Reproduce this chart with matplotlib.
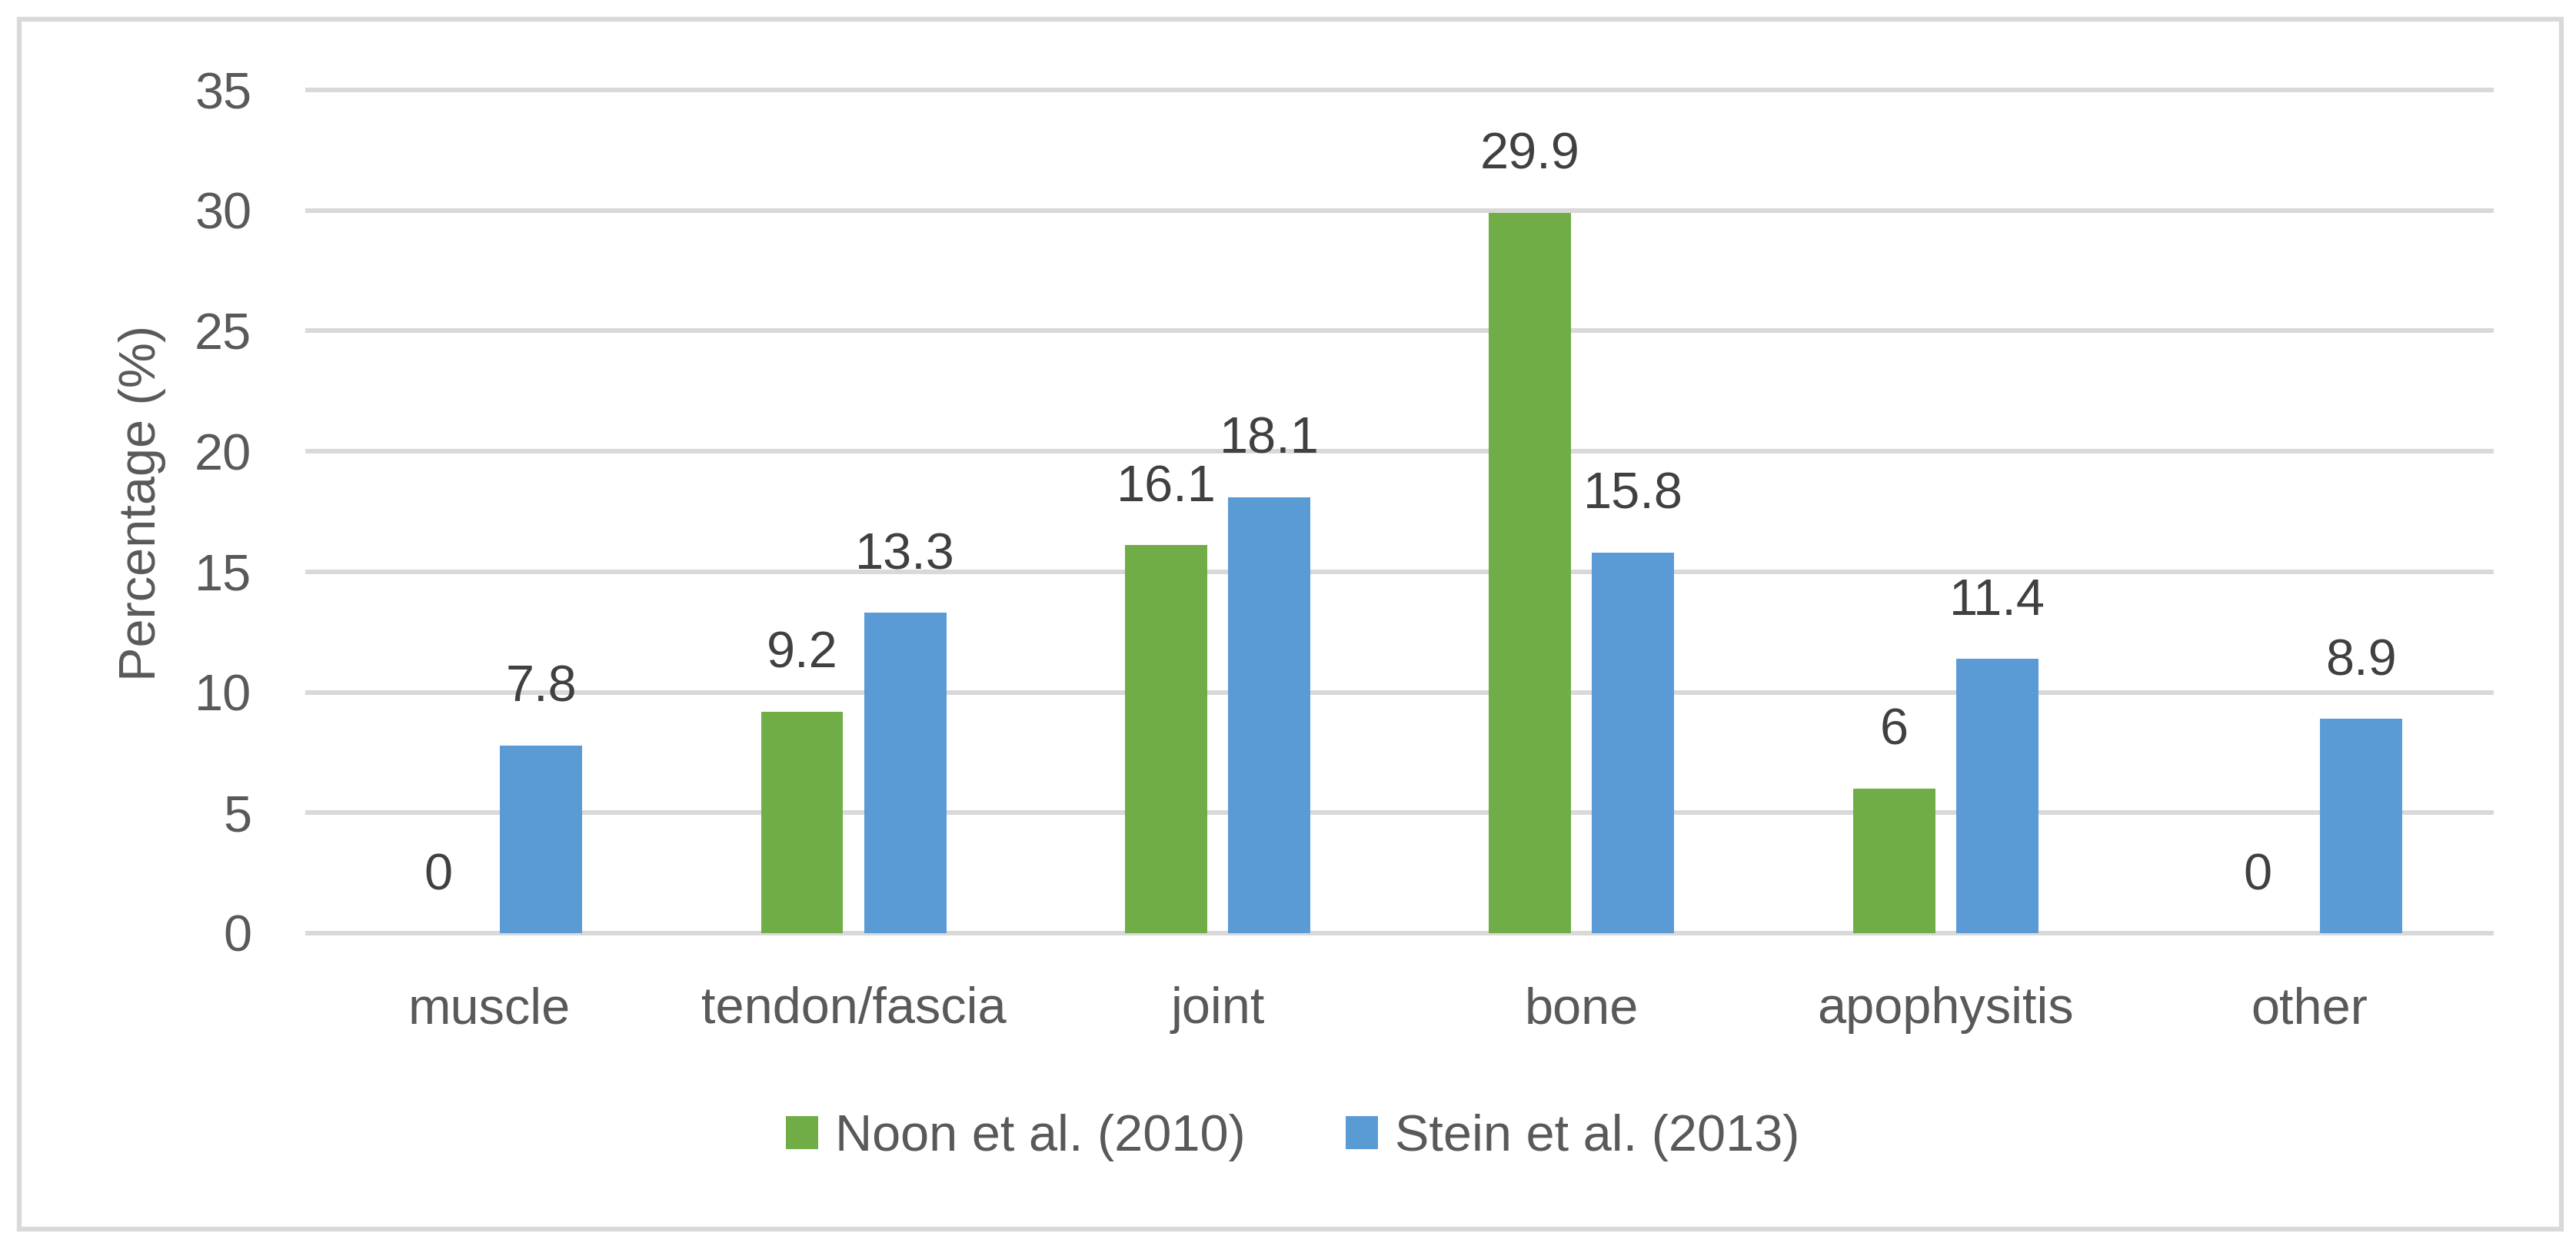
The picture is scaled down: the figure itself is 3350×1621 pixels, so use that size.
import numpy as np
import matplotlib
matplotlib.use("Agg")
import matplotlib.pyplot as plt
from matplotlib.patches import Rectangle

# Datos
categorias = ["muscle", "tendon/fascia", "joint", "bone", "apophysitis", "other"]
noon_2010 = [0, 9.2, 16.1, 29.9, 6, 0]
stein_2013 = [7.8, 13.3, 18.1, 15.8, 11.4, 8.9]
series = ["Noon et al. (2010)", "Stein et al. (2013)"]
y_ticks = [0, 5, 10, 15, 20, 25, 30, 35]

verde = "#70AD47"
azul = "#5B9BD5"
gris = "#D9D9D9"
texto = "#595959"

plt.rcParams['font.family'] = ['Liberation Sans', 'DejaVu Sans']

fig = plt.figure(figsize=(33.5, 16.21), dpi=100)
ax = fig.add_axes([0.1194, 0.2511, 0.8478, 0.6767])

x = np.arange(len(categorias))
ancho = 0.226
desp = 0.1416

b1 = ax.bar(x - desp, noon_2010, ancho, color=verde, label=series[0], zorder=3)
b2 = ax.bar(x + desp, stein_2013, ancho, color=azul, label=series[1], zorder=3)

# etiquetas de datos
for barras, valores in [(b1, noon_2010), (b2, stein_2013)]:
    for b, v in zip(barras, valores):
        ax.annotate(f"{v:g}", (b.get_x() + b.get_width() / 2, v),
                    xytext=(0, 41), textcoords="offset points",
                    ha="center", va="baseline", fontsize=48, color="#404040")

ax.set_xlim(-0.5, len(categorias) - 0.5)
ax.set_ylim(0, 35)
ax.set_yticks(y_ticks)
ax.set_xticks(x)
ax.set_xticklabels(categorias)
ax.tick_params(axis="both", length=0, labelsize=48, labelcolor=texto)
ax.tick_params(axis="y", pad=52.5)
ax.tick_params(axis="x", pad=50)

ax.grid(axis="y", color=gris, linewidth=4.3, zorder=0)
for linea in ax.get_ygridlines():
    linea.set_clip_on(False)
ax.set_axisbelow(True)
for s in ax.spines.values():
    s.set_visible(False)

fig.text(185 / 3350, 0.596, "Percentage (%)", rotation=90, ha="center",
         va="center", fontsize=48, color=texto)

ax.legend(loc="center", bbox_to_anchor=(0.5018, 0.087),
          bbox_transform=fig.transFigure, ncol=2, frameon=False,
          fontsize=48, labelcolor=texto, handlelength=0.63,
          handleheight=0.63, handletextpad=0.33, columnspacing=1.96,
          borderpad=0)

# borde
fig.patches.append(Rectangle((25 / 3350, 22 / 1621), 3306 / 3350, 1574 / 1621,
                             transform=fig.transFigure, fill=False,
                             edgecolor=gris, linewidth=4.5))

fig.savefig("out.png", dpi=100)
